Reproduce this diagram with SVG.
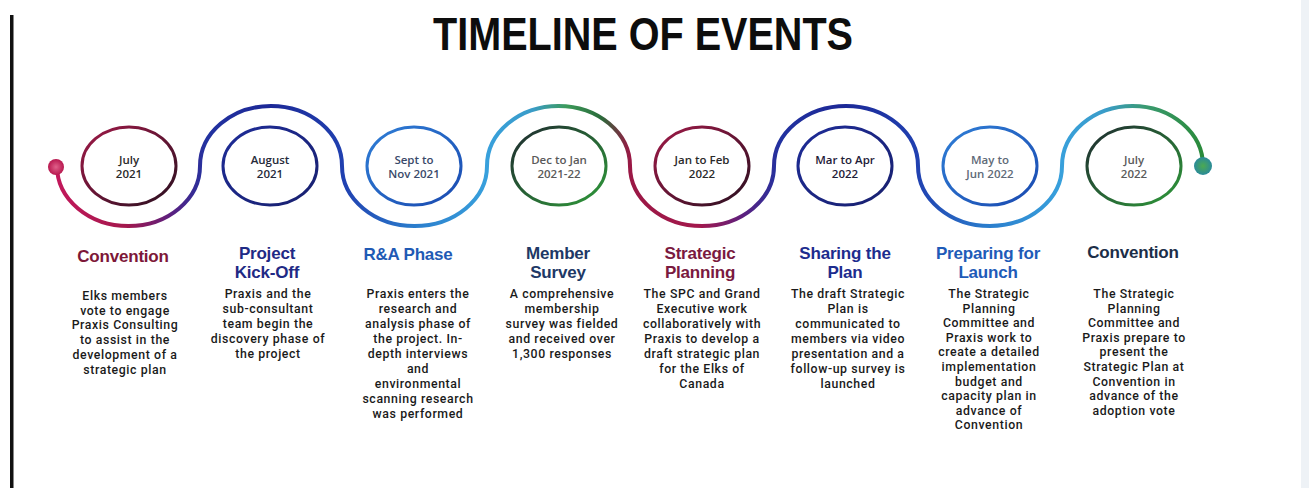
<svg xmlns="http://www.w3.org/2000/svg" width="1309" height="488" viewBox="0 0 1309 488">
  <defs>
    <style>
      .title { font-family: "Liberation Sans", Arial, sans-serif; font-weight: 700; font-size: 46px; fill: #0d0d0d; }
      .ring { fill: none; stroke-width: 3; }
      .date { font-family: "Open Sans", "DejaVu Sans", sans-serif; font-size: 11.5px; font-weight: 600; text-anchor: middle; }
      .head { font-family: "Liberation Sans", Arial, sans-serif; font-weight: 700; font-size: 17px; text-anchor: middle; letter-spacing: -0.2px; }
      .body { font-family: Roboto, "Liberation Sans", sans-serif; font-weight: 500; font-size: 12.3px; letter-spacing: 0.6px; fill: #1a1a1a; text-anchor: middle; }
      .wave { fill: none; stroke-width: 4; stroke-linecap: round; }
    </style>
    <linearGradient id="gA" gradientUnits="userSpaceOnUse" x1="57" y1="0" x2="630" y2="0">
      <stop offset="0" stop-color="#c2185b"/>
      <stop offset="0.12" stop-color="#a3184c"/>
      <stop offset="0.2" stop-color="#5a2080"/>
      <stop offset="0.26" stop-color="#2232a0"/>
      <stop offset="0.37" stop-color="#1c2896"/>
      <stop offset="0.5" stop-color="#2040b0"/>
      <stop offset="0.62" stop-color="#2a7ccc"/>
      <stop offset="0.75" stop-color="#38a0dc"/>
      <stop offset="0.83" stop-color="#3a9cc8"/>
      <stop offset="0.89" stop-color="#3c9a5a"/>
      <stop offset="0.95" stop-color="#2a6a3a"/>
      <stop offset="1" stop-color="#9a1845"/>
    </linearGradient>
    <linearGradient id="gB" gradientUnits="userSpaceOnUse" x1="630" y1="0" x2="1203" y2="0">
      <stop offset="0" stop-color="#9a1845"/>
      <stop offset="0.12" stop-color="#a3184c"/>
      <stop offset="0.2" stop-color="#5a2080"/>
      <stop offset="0.26" stop-color="#2232a0"/>
      <stop offset="0.37" stop-color="#1c2896"/>
      <stop offset="0.5" stop-color="#2040b0"/>
      <stop offset="0.62" stop-color="#2a7ccc"/>
      <stop offset="0.75" stop-color="#38a0dc"/>
      <stop offset="0.83" stop-color="#3a9cc8"/>
      <stop offset="0.9" stop-color="#3a9a70"/>
      <stop offset="1" stop-color="#2a8a3a"/>
    </linearGradient>
    <linearGradient id="rRed" x1="0" y1="0" x2="1" y2="1">
      <stop offset="0" stop-color="#a01a48"/>
      <stop offset="1" stop-color="#2a1020"/>
    </linearGradient>
    <linearGradient id="rNavy" x1="0" y1="0" x2="1" y2="1">
      <stop offset="0" stop-color="#1e2c98"/>
      <stop offset="1" stop-color="#18206e"/>
    </linearGradient>
    <linearGradient id="rBlue" x1="0" y1="0" x2="1" y2="1">
      <stop offset="0" stop-color="#2f7ed6"/>
      <stop offset="1" stop-color="#1a4ab0"/>
    </linearGradient>
    <linearGradient id="rGreen" x1="0" y1="0" x2="1" y2="1">
      <stop offset="0" stop-color="#1f2a30"/>
      <stop offset="1" stop-color="#2f9a3a"/>
    </linearGradient>
    <radialGradient id="dotStart">
      <stop offset="0" stop-color="#e0608a"/>
      <stop offset="1" stop-color="#b8184f"/>
    </radialGradient>
    <radialGradient id="dotEnd">
      <stop offset="0" stop-color="#4caa50"/>
      <stop offset="1" stop-color="#2a8a9a"/>
    </radialGradient>
  </defs>

  <rect x="0" y="0" width="1309" height="488" fill="#ffffff"/>
  <rect x="1301" y="0" width="8" height="488" fill="#eef2f6"/>
  <rect x="10" y="15" width="3.5" height="473" fill="#111111"/>

  <g id="title">
    <text class="title" x="643" y="50" text-anchor="middle" textLength="420" lengthAdjust="spacingAndGlyphs">TIMELINE OF EVENTS</text>
  </g>

  <g id="connectors">
    <path class="wave" stroke="url(#gA)" d="M 57 166 A 71.5 60 0 0 0 200 166 A 71 60 0 0 1 342 166 A 72.5 60 0 0 0 487 166 A 71.5 60 0 0 1 630 166"/>
    <path class="wave" stroke="url(#gB)" d="M 630 166 A 72 60 0 0 0 774 166 A 72 60 0 0 1 918 166 A 72 60 0 0 0 1062 166 A 70.5 60 0 0 1 1203 166"/>
    <circle cx="56" cy="167" r="8" fill="url(#dotStart)"/>
    <circle cx="1203" cy="166" r="9" fill="url(#dotEnd)"/>
  </g>

  <g id="node-1">
    <ellipse class="ring" cx="129" cy="166" rx="47" ry="39" stroke="url(#rRed)"/>
    <text class="date" fill="#2a2a2a" x="129" y="163.5">July</text>
    <text class="date" fill="#2a2a2a" x="129" y="178">2021</text>
    <text class="head" fill="#7d1738" x="123" y="262">Convention</text>
    <text class="body"><tspan x="125" y="300">Elks members</tspan><tspan x="125" y="314.7">vote to engage</tspan><tspan x="125" y="329.4">Praxis Consulting</tspan><tspan x="125" y="344.1">to assist in the</tspan><tspan x="125" y="358.8">development of a</tspan><tspan x="125" y="373.5">strategic plan</tspan></text>
  </g>

  <g id="node-2">
    <ellipse class="ring" cx="270" cy="166" rx="47" ry="39" stroke="url(#rNavy)"/>
    <text class="date" fill="#262a3a" x="270" y="163.5">August</text>
    <text class="date" fill="#262a3a" x="270" y="178">2021</text>
    <text class="head" fill="#1f2a85"><tspan x="267" y="259">Project</tspan><tspan x="267" y="278">Kick-Off</tspan></text>
    <text class="body"><tspan x="268" y="298">Praxis and the</tspan><tspan x="268" y="313">sub-consultant</tspan><tspan x="268" y="328">team begin the</tspan><tspan x="268" y="343">discovery phase of</tspan><tspan x="268" y="358">the project</tspan></text>
  </g>

  <g id="node-3">
    <ellipse class="ring" cx="414" cy="166" rx="47" ry="39" stroke="url(#rBlue)"/>
    <text class="date" fill="#3a4a6a" x="414" y="163.5">Sept to</text>
    <text class="date" fill="#3a4a6a" x="414" y="178">Nov 2021</text>
    <text class="head" fill="#1f5ab5" x="408" y="260">R&amp;A Phase</text>
    <text class="body"><tspan x="418" y="298">Praxis enters the</tspan><tspan x="418" y="313">research and</tspan><tspan x="418" y="328">analysis phase of</tspan><tspan x="418" y="343">the project. In-</tspan><tspan x="418" y="358">depth interviews</tspan><tspan x="418" y="373">and</tspan><tspan x="418" y="388">environmental</tspan><tspan x="418" y="403">scanning research</tspan><tspan x="418" y="418">was performed</tspan></text>
  </g>

  <g id="node-4">
    <ellipse class="ring" cx="559" cy="166" rx="47" ry="39" stroke="url(#rGreen)"/>
    <text class="date" fill="#5a5a5a" x="559" y="163.5">Dec to Jan</text>
    <text class="date" fill="#5a5a5a" x="559" y="178">2021-22</text>
    <text class="head" fill="#203866"><tspan x="558" y="259">Member</tspan><tspan x="558" y="278">Survey</tspan></text>
    <text class="body"><tspan x="562" y="298">A comprehensive</tspan><tspan x="562" y="313">membership</tspan><tspan x="562" y="328">survey was fielded</tspan><tspan x="562" y="343">and received over</tspan><tspan x="562" y="358">1,300 responses</tspan></text>
  </g>

  <g id="node-5">
    <ellipse class="ring" cx="702" cy="166" rx="47" ry="39" stroke="url(#rRed)"/>
    <text class="date" fill="#2a2a2a" x="702" y="163.5">Jan to Feb</text>
    <text class="date" fill="#2a2a2a" x="702" y="178">2022</text>
    <text class="head" fill="#7a1a40"><tspan x="700" y="259">Strategic</tspan><tspan x="700" y="278">Planning</tspan></text>
    <text class="body"><tspan x="702" y="298">The SPC and Grand</tspan><tspan x="702" y="313">Executive work</tspan><tspan x="702" y="328">collaboratively with</tspan><tspan x="702" y="343">Praxis to develop a</tspan><tspan x="702" y="358">draft strategic plan</tspan><tspan x="702" y="373">for the Elks of</tspan><tspan x="702" y="388">Canada</tspan></text>
  </g>

  <g id="node-6">
    <ellipse class="ring" cx="845" cy="166" rx="47" ry="39" stroke="url(#rNavy)"/>
    <text class="date" fill="#1e2038" x="845" y="163.5">Mar to Apr</text>
    <text class="date" fill="#1e2038" x="845" y="178">2022</text>
    <text class="head" fill="#1d2c8e"><tspan x="845" y="259">Sharing the</tspan><tspan x="845" y="278">Plan</tspan></text>
    <text class="body"><tspan x="848" y="298">The draft Strategic</tspan><tspan x="848" y="313">Plan is</tspan><tspan x="848" y="328">communicated to</tspan><tspan x="848" y="343">members via video</tspan><tspan x="848" y="358">presentation and a</tspan><tspan x="848" y="373">follow-up survey is</tspan><tspan x="848" y="388">launched</tspan></text>
  </g>

  <g id="node-7">
    <ellipse class="ring" cx="990" cy="166" rx="47" ry="39" stroke="url(#rBlue)"/>
    <text class="date" fill="#606a78" x="990" y="163.5">May to</text>
    <text class="date" fill="#606a78" x="990" y="178">Jun 2022</text>
    <text class="head" fill="#1e5bb8"><tspan x="988" y="259">Preparing for</tspan><tspan x="988" y="278">Launch</tspan></text>
    <text class="body"><tspan x="989" y="298">The Strategic</tspan><tspan x="989" y="312.6">Planning</tspan><tspan x="989" y="327.2">Committee and</tspan><tspan x="989" y="341.8">Praxis work to</tspan><tspan x="989" y="356.4">create a detailed</tspan><tspan x="989" y="371">implementation</tspan><tspan x="989" y="385.6">budget and</tspan><tspan x="989" y="400.2">capacity plan in</tspan><tspan x="989" y="414.8">advance of</tspan><tspan x="989" y="429.4">Convention</tspan></text>
  </g>

  <g id="node-8">
    <ellipse class="ring" cx="1134" cy="166" rx="47" ry="39" stroke="url(#rGreen)"/>
    <text class="date" fill="#5a5a5a" x="1134" y="163.5">July</text>
    <text class="date" fill="#5a5a5a" x="1134" y="178">2022</text>
    <text class="head" fill="#1c2e48" x="1133" y="258">Convention</text>
    <text class="body"><tspan x="1134" y="298">The Strategic</tspan><tspan x="1134" y="312.6">Planning</tspan><tspan x="1134" y="327.2">Committee and</tspan><tspan x="1134" y="341.8">Praxis prepare to</tspan><tspan x="1134" y="356.4">present the</tspan><tspan x="1134" y="371">Strategic Plan at</tspan><tspan x="1134" y="385.6">Convention in</tspan><tspan x="1134" y="400.2">advance of the</tspan><tspan x="1134" y="414.8">adoption vote</tspan></text>
  </g>
</svg>
